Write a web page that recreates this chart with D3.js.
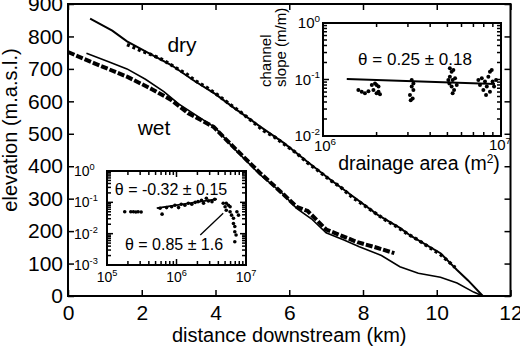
<!DOCTYPE html>
<html>
<head>
<meta charset="utf-8">
<script src="https://cdn.jsdelivr.net/npm/d3@7"></script>
<style>
  body { margin: 0; background: #fff; }
  svg { display: block; font-family: "Liberation Sans", Arial, Helvetica, sans-serif; }
  text { fill: #000; }
</style>
</head>
<body>
<div id="chart"></div>
<script>
// main profiles: distance downstream (km) and elevation (m.a.s.l.)
const dryLineKm   = [0.6, 1.2, 1.6, 2.2, 2.8, 3.4, 4.0, 4.5, 5.3, 5.85, 6.5, 7.1, 7.75, 8.4, 9.0, 9.3, 10.1, 10.55, 10.85, 11.25]
const dryLineElev = [855, 818, 785, 748, 712, 665, 622, 580, 515, 472, 413, 360, 305, 250, 210, 185, 132, 80, 48, 0]

const dryPtsKm   = [1.6, 1.75, 2.0, 2.3, 2.6, 2.9, 3.2, 3.5, 3.8, 4.1, 4.4, 4.7, 5.0, 5.3, 5.6, 5.9, 6.2, 6.5, 6.8, 7.1, 7.4, 7.7, 8.0, 8.3, 8.6, 8.9, 9.2, 9.5, 9.8, 10.1, 10.3, 10.5]
const dryPtsElev = [775, 768, 755, 742, 726, 705, 685, 660, 640, 616, 590, 565, 538, 510, 490, 465, 440, 410, 385, 358, 335, 305, 282, 258, 235, 215, 192, 172, 150, 128, 108, 88]

const wetLineKm   = [0.5, 1.1, 1.6, 2.1, 2.6, 3.0, 3.5, 4.0, 4.5, 5.2, 5.8, 6.2, 6.6, 7.0, 7.5, 7.9, 8.5, 9.0, 9.5, 10.1, 10.55, 11.0, 11.25]
const wetLineElev = [748, 722, 700, 668, 630, 592, 555, 518, 455, 375, 318, 270, 238, 195, 172, 152, 125, 90, 70, 58, 40, 12, 0]

const wetPtsKm   = [0, 0.7, 1.6, 2.3, 2.8, 3.25, 3.95, 4.5, 5.2, 5.8, 6.2, 6.5, 7.0, 7.85, 8.4, 8.85]
const wetPtsElev = [752, 718, 676, 636, 604, 564, 521, 458, 380, 318, 275, 262, 205, 166, 148, 132]

const xTicks = [0, 2, 4, 6, 8, 10, 12]
const yTicks = [0, 100, 200, 300, 400, 500, 600, 700, 800, 900]

// wet inset: drainage area (m2) vs channel slope (m/m)
const wetAreaA  = [1.8e5, 2.2e5, 2.4e5, 2.6e5, 2.8e5, 3.1e5]
const wetSlopeA = [0.05, 0.05, 0.05, 0.049, 0.05, 0.049]
const wetAreaB  = [5.8e5, 6.2e5, 7.2e5, 8.5e5, 9.5e5, 1.07e6, 1.17e6, 1.32e6, 1.48e6, 1.66e6, 1.86e6, 2.04e6, 2.29e6, 2.45e6, 2.69e6, 2.88e6, 3.24e6, 3.55e6]
const wetSlopeB = [0.065, 0.042, 0.068, 0.072, 0.081, 0.068, 0.087, 0.081, 0.093, 0.087, 0.10, 0.105, 0.117, 0.093, 0.135, 0.11, 0.105, 0.126]
const wetAreaC  = [4.7e6, 5.0e6, 5.2e6, 5.2e6, 5.6e6, 5.9e6, 5.9e6, 6.2e6, 6.6e6, 6.6e6, 6.9e6, 6.9e6, 7.2e6, 7.4e6, 7.8e6, 6.9e6]
const wetSlopeC = [0.093, 0.072, 0.056, 0.093, 0.081, 0.05, 0.072, 0.039, 0.031, 0.021, 0.017, 0.0115, 0.0091, 0.05, 0.039, 0.0055]
const wetFitArea  = [5.2e5, 3.8e6]
const wetFitSlope = [0.065, 0.126]
const wetArrowArea  = [2.2e6, 4.7e6]
const wetArrowSlope = [0.0091, 0.045]

// dry inset
const dryArea  = [1.58e6, 1.65e6, 1.72e6, 1.80e6, 1.88e6, 1.92e6, 1.96e6, 2.0e6, 2.05e6, 2.05e6, 2.09e6, 2.0e6,
                  3.15e6, 3.22e6, 3.15e6, 3.22e6, 3.08e6, 3.19e6, 3.11e6,
                  5.16e6, 5.28e6, 5.40e6, 5.16e6, 5.35e6, 5.52e6, 5.13e6, 5.28e6, 5.45e6, 5.35e6, 5.64e6, 5.06e6,
                  7.46e6, 7.62e6, 7.80e6, 7.96e6, 8.13e6, 8.24e6, 8.49e6, 8.67e6, 8.87e6, 8.97e6, 9.14e6, 8.67e6, 8.32e6, 9.38e6]
const drySlope = [0.065, 0.061, 0.057, 0.062, 0.080, 0.065, 0.085, 0.080, 0.075, 0.061, 0.055, 0.057,
                  0.098, 0.085, 0.075, 0.065, 0.053, 0.046, 0.043,
                  0.158, 0.137, 0.147, 0.112, 0.098, 0.105, 0.085, 0.075, 0.065, 0.057, 0.080, 0.098,
                  0.098, 0.080, 0.105, 0.065, 0.092, 0.053, 0.112, 0.137, 0.147, 0.092, 0.075, 0.061, 0.075, 0.098]
const dryFitArea  = [1.36e6, 9.25e6]
const dryFitSlope = [0.102, 0.083]

const W = 520, H = 348

const svg = d3.select("#chart")
  .append("svg")
    .attr("width", W)
    .attr("height", H)

const x = d3.scaleLinear().domain([0, 12]).range([68, 510.5])
const y = d3.scaleLinear().domain([0, 900]).range([296, 4])

const zip = (a, b) => a.map((v, i) => [v, b[i]])

// axes, ticks all pointing inwards
svg.append("g")
  .attr("transform", `translate(0,${y(0)})`)
  .call(d3.axisBottom(x).tickValues(xTicks).tickSizeInner(-6).tickSizeOuter(0).tickPadding(9))
  .call(g => g.select(".domain").remove())
  .call(g => g.selectAll("text").style("font-size", "21px"))
svg.append("g")
  .attr("transform", `translate(${x(0)},0)`)
  .call(d3.axisLeft(y).tickValues(yTicks).tickSizeInner(-6).tickSizeOuter(0).tickPadding(5))
  .call(g => g.select(".domain").remove())
  .call(g => g.selectAll("text").style("font-size", "21px"))
svg.append("g")
  .attr("transform", `translate(0,${y(900)})`)
  .call(d3.axisTop(x).tickValues(xTicks).tickSizeInner(-6).tickSizeOuter(0).tickFormat(""))
  .call(g => g.select(".domain").remove())
svg.append("g")
  .attr("transform", `translate(${x(12)},0)`)
  .call(d3.axisRight(y).tickValues(yTicks).tickSizeInner(-6).tickSizeOuter(0).tickFormat(""))
  .call(g => g.select(".domain").remove())
svg.selectAll(".tick line").attr("stroke-width", 1.5)

svg.append("rect")
  .attr("x", x(0)).attr("y", y(900))
  .attr("width", x(12) - x(0)).attr("height", y(0) - y(900))
  .attr("fill", "none").attr("stroke", "#000").attr("stroke-width", 2)

// profiles
const line = d3.line().x(d => x(d[0])).y(d => y(d[1]))

svg.append("path")
  .attr("d", line(zip(wetPtsKm, wetPtsElev)))
  .attr("fill", "none").attr("stroke", "#000")
  .attr("stroke-width", 4).attr("stroke-dasharray", "7,2")
svg.append("path")
  .attr("d", line(zip(dryPtsKm, dryPtsElev)))
  .attr("fill", "none").attr("stroke", "#000")
  .attr("stroke-width", 3.5).attr("stroke-dasharray", "3,3")
svg.append("path")
  .attr("d", line(zip(wetLineKm, wetLineElev)))
  .attr("fill", "none").attr("stroke", "#000").attr("stroke-width", 1.6)
svg.append("path")
  .attr("d", line(zip(dryLineKm, dryLineElev)))
  .attr("fill", "none").attr("stroke", "#000").attr("stroke-width", 2)

svg.append("text").attr("x", 182).attr("y", 52).attr("text-anchor", "middle")
  .style("font-size", "21px").text("dry")
svg.append("text").attr("x", 154).attr("y", 135).attr("text-anchor", "middle")
  .style("font-size", "21px").text("wet")

// axis titles
svg.append("text")
  .attr("x", (x(0) + x(12)) / 2).attr("y", 342).attr("text-anchor", "middle")
  .style("font-size", "20px").text("distance downstream (km)")
svg.append("text")
  .attr("transform", `translate(17,${(y(0) + y(900)) / 2 - 20}) rotate(-90)`)
  .attr("text-anchor", "middle")
  .style("font-size", "20px").text("elevation (m.a.s.l.)")

// 10^n label
function powLabel(g, px, py, exp, anchor, size) {
  const t = g.append("text").attr("x", px).attr("y", py)
    .attr("text-anchor", anchor).style("font-size", size + "px")
  t.append("tspan").text("10")
  t.append("tspan").attr("dy", -size * 0.42).style("font-size", (size * 0.66) + "px").text(exp)
}

// log-log box with ticks on all four sides
function logBox(ix, iy) {
  const g = svg.append("g")
  const [x0, x1] = ix.range(), [y0, y1] = iy.range()
  g.append("rect")
    .attr("x", x0).attr("y", y1).attr("width", x1 - x0).attr("height", y0 - y1)
    .attr("fill", "#fff").attr("stroke", "none")
  const isMajor = v => Math.abs(Math.log10(v) - Math.round(Math.log10(v))) < 1e-6
  ix.ticks().forEach(v => {
    const len = isMajor(v) ? 6 : 4
    g.append("line").attr("x1", ix(v)).attr("x2", ix(v)).attr("y1", y0).attr("y2", y0 - len)
    g.append("line").attr("x1", ix(v)).attr("x2", ix(v)).attr("y1", y1).attr("y2", y1 + len)
  })
  iy.ticks().forEach(v => {
    const len = isMajor(v) ? 6 : 4
    g.append("line").attr("y1", iy(v)).attr("y2", iy(v)).attr("x1", x0).attr("x2", x0 + len)
    g.append("line").attr("y1", iy(v)).attr("y2", iy(v)).attr("x1", x1).attr("x2", x1 - len)
  })
  g.selectAll("line").attr("stroke", "#000").attr("stroke-width", 1.5)
  g.append("rect")
    .attr("x", x0).attr("y", y1).attr("width", x1 - x0).attr("height", y0 - y1)
    .attr("fill", "none").attr("stroke", "#000").attr("stroke-width", 2)
  return g
}

// wet inset (lower left)
const ix1 = d3.scaleLog().domain([1e5, 1e7]).range([107, 246])
const iy1 = d3.scaleLog().domain([1e-3, 1]).range([265, 171])
const g1 = logBox(ix1, iy1)
const line1 = d3.line().x(d => ix1(d[0])).y(d => iy1(d[1]))

g1.selectAll("circle.pa")
  .data(zip(wetAreaA, wetSlopeA).concat(zip(wetAreaB, wetSlopeB), zip(wetAreaC, wetSlopeC)))
  .join("circle")
    .attr("cx", d => ix1(d[0])).attr("cy", d => iy1(d[1])).attr("r", 1.8)
    .attr("fill", "#000")
g1.append("path").attr("d", line1(zip(wetFitArea, wetFitSlope)))
  .attr("stroke", "#000").attr("stroke-width", 1.8).attr("fill", "none")
g1.append("path").attr("d", line1(zip(wetArrowArea, wetArrowSlope)))
  .attr("stroke", "#000").attr("stroke-width", 1.3).attr("fill", "none")

g1.append("text").attr("x", 171).attr("y", 195).attr("text-anchor", "middle")
  .style("font-size", "16px").text("θ = -0.32 ± 0.15")
g1.append("text").attr("x", 174).attr("y", 250).attr("text-anchor", "middle")
  .style("font-size", "16px").text("θ = 0.85 ± 1.6")

;[[1, "0"], [0.1, "-1"], [0.01, "-2"], [0.001, "-3"]].forEach(([v, e]) =>
  powLabel(g1, 74, iy1(v) + 5, e, "start", 14))
;[[1e5, "5"], [1e6, "6"], [1e7, "7"]].forEach(([v, e]) =>
  powLabel(g1, ix1(v), 282, e, "middle", 14))

// dry inset (upper right)
const ix2 = d3.scaleLog().domain([1e6, 1e7]).range([323, 501])
const iy2 = d3.scaleLog().domain([1e-2, 1]).range([136, 23])
const g2 = logBox(ix2, iy2)
const line2 = d3.line().x(d => ix2(d[0])).y(d => iy2(d[1]))

g2.selectAll("circle.pb")
  .data(zip(dryArea, drySlope))
  .join("circle")
    .attr("cx", d => ix2(d[0])).attr("cy", d => iy2(d[1])).attr("r", 2)
    .attr("fill", "#000")
g2.append("path").attr("d", line2(zip(dryFitArea, dryFitSlope)))
  .attr("stroke", "#000").attr("stroke-width", 2).attr("fill", "none")

g2.append("text").attr("x", 415).attr("y", 65).attr("text-anchor", "middle")
  .style("font-size", "17px").text("θ = 0.25 ± 0.18")

;[[1, "0"], [0.1, "-1"], [0.01, "-2"]].forEach(([v, e]) =>
  powLabel(g2, 320, iy2(v) + 5, e, "end", 15))
powLabel(g2, ix2(1e6) + 2, 151, "6", "middle", 15)
powLabel(g2, ix2(1e7) - 1, 150, "7", "middle", 15)

const dl = g2.append("text").attr("x", 419).attr("y", 170).attr("text-anchor", "middle")
  .style("font-size", "19.5px")
dl.append("tspan").text("drainage area (m")
dl.append("tspan").attr("dy", -7).style("font-size", "12px").text("2")
dl.append("tspan").attr("dy", 7).text(")")

g2.append("text").attr("transform", "translate(271,87) rotate(-90)")
  .style("font-size", "15px").text("channel")
g2.append("text").attr("transform", "translate(286,87) rotate(-90)")
  .style("font-size", "15px").text("slope (m/m)")
</script>
</body>
</html>
